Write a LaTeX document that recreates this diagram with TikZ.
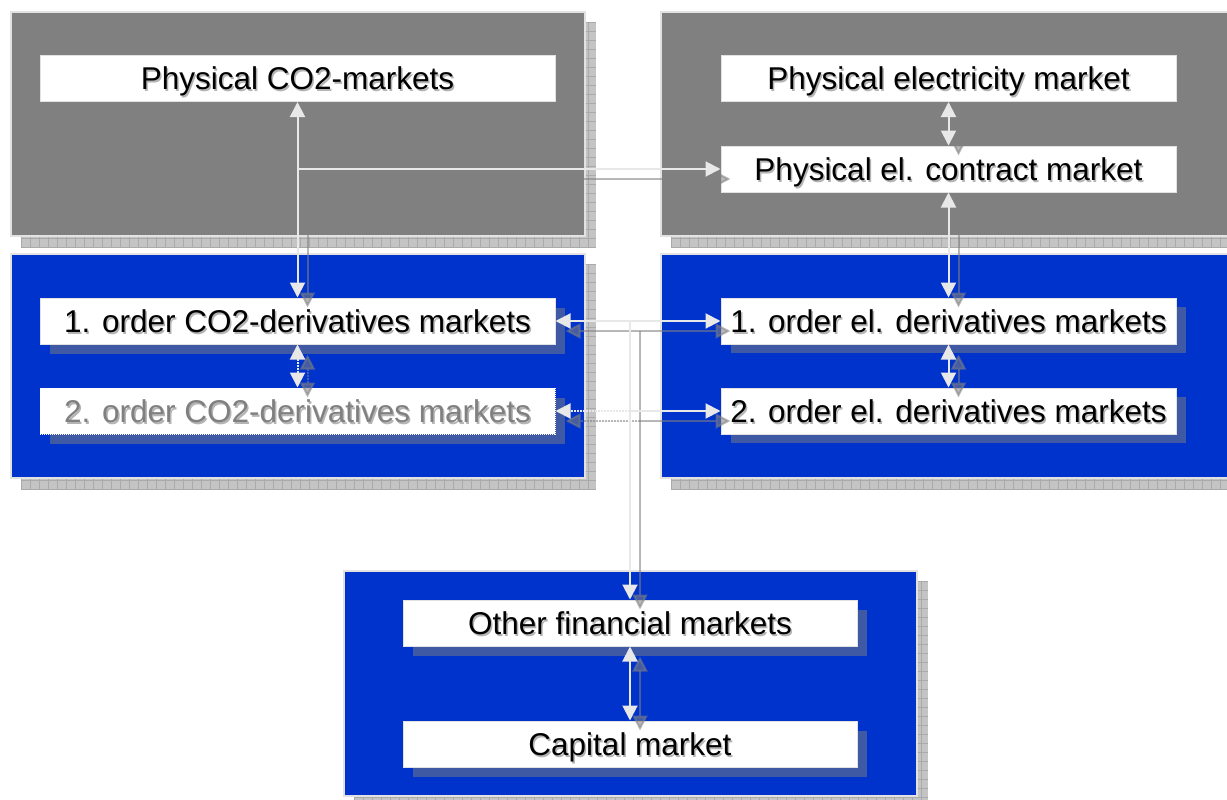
\documentclass[tikz,border=0pt]{standalone}
\usepackage{fontspec}
\setmainfont{Liberation Sans}
\usetikzlibrary{arrows.meta,calc}
\definecolor{pgray}{RGB}{128,128,128}
\definecolor{pblue}{RGB}{0,51,204}
\definecolor{pshadow}{RGB}{196,196,196}
\definecolor{pgrid}{RGB}{170,170,170}
\definecolor{pedge}{RGB}{226,226,226}
\definecolor{lnc}{RGB}{232,232,232}
\definecolor{txtsh}{RGB}{180,180,180}
\newcommand\shtxt[2][black]{\leavevmode\rlap{\hspace{1.5pt}\raisebox{-1.5pt}{\color{txtsh}#2}}{\color{#1}#2}}
\tikzset{
  panel/.style={draw=pedge, line width=1.5pt, minimum width=574pt, minimum height=224pt, inner sep=0pt},
  panelsh/.style={fill=pshadow, draw=none},
  mbox/.style={fill=white, draw=pedge, line width=1pt, inner sep=0pt, minimum height=46pt,
    text height=28pt, text depth=5pt, font=\fontsize{31.5}{36}\selectfont},
  boxsh/.style={fill=pgray, opacity=0.5, draw=none},
  conn/.style={draw=lnc, line width=2pt},
  tipd/.style={-{Triangle[length=15pt,width=15pt]}},
  tipb/.style={{Triangle[length=15pt,width=15pt]}-{Triangle[length=15pt,width=15pt]}},
  connsh/.style={draw=pgray, fill=pgray, line width=2pt, opacity=0.55},
}
\newcommand\shadowrect[4]{%
  \fill[panelsh] (#1,#2) rectangle (#3,#4);
  \begin{scope}
  \clip (#1,#2) rectangle (#3,#4);
  \pgfmathtruncatemacro\shxa{#1+9}%
  \pgfmathtruncatemacro\shya{#2+9}%
  \draw[pgrid, line width=0.5pt] \foreach \gx in {#1,\shxa,...,#3} {(\gx,#2) -- (\gx,#4)};
  \draw[pgrid, line width=0.5pt] \foreach \gy in {#2,\shya,...,#4} {(#1,\gy) -- (#3,\gy)};
  \end{scope}}
\begin{document}
\begin{tikzpicture}[x=1pt,y=-1pt]
\useasboundingbox (0,0) rectangle (1227,800);
\clip (0,0) rectangle (1227,800);
\fill[white] (0,0) rectangle (1227,800);
% panel shadows
\shadowrect{21}{22}{596}{247}
\shadowrect{671}{22}{1246}{247}
\shadowrect{21}{264}{596}{489}
\shadowrect{671}{264}{1246}{489}
\shadowrect{354}{581}{928}{806}
% panels
\node[panel, fill=pgray] (ptl) at (298,124) {};
\node[panel, fill=pgray] (ptr) at (948,124) {};
\node[panel, fill=pblue] (pml) at (298,366) {};
\node[panel, fill=pblue] (pmr) at (948,366) {};
\node[panel, fill=pblue, minimum width=573pt, minimum height=225pt] (pbot) at (630.5,683.5) {};
% box shadows (blue panels)
\fill[boxsh] (50,308) rectangle (565,354);
\fill[boxsh] (50,398) rectangle (565,444);
\fill[boxsh] (731,307) rectangle (1186,353);
\fill[boxsh] (731,397) rectangle (1186,443);
\fill[boxsh] (413,610) rectangle (867,656);
\fill[boxsh] (413,731) rectangle (867,777);
% boxes
\node[mbox, minimum width=515pt] (pco2) at (297.5,78.5) {\shtxt{Physical CO2-markets}};
\node[mbox, minimum width=515pt] (o1co2) at (297.5,321) {\shtxt{1. order CO2-derivatives markets}};
\node[mbox, minimum width=515pt, draw=white, densely dotted] (o2co2) at (297.5,411) {\shtxt[pgray]{2. order CO2-derivatives markets}};
\node[mbox, minimum width=455pt] (pel) at (948.5,78.5) {\shtxt{Physical electricity market}};
\node[mbox, minimum width=455pt] (pcon) at (948.5,169) {\shtxt{Physical el. contract market}};
\node[mbox, minimum width=455pt] (o1el) at (948.5,321) {\shtxt{1. order el. derivatives markets}};
\node[mbox, minimum width=455pt] (o2el) at (948.5,411) {\shtxt{2. order el. derivatives markets}};
\node[mbox, minimum width=454pt] (ofin) at (630,623) {\shtxt{Other financial markets}};
\node[mbox, minimum width=454pt] (cap) at (630,744) {\shtxt{Capital market}};
% junctions
\coordinate (j1) at (pco2.south |- pcon.west);
\coordinate (j2) at (ofin.north |- o1co2.east);
\coordinate (j3) at (ofin.north |- o2co2.east);
% connector shadows
\begin{scope}[transform canvas={shift={(10,10)}}]
\draw[connsh, tipb] (pco2.south) -- (o1co2.north);
\draw[connsh, tipd] (j1) -- (pcon.west);
\draw[connsh, tipb] (pel.south) -- (pcon.north);
\draw[connsh, tipb] (pcon.south) -- (o1el.north);
\draw[connsh, tipb] (o1el.south) -- (o2el.north);
\draw[connsh, tipb, densely dotted] (o1co2.south) -- (o2co2.north);
\draw[connsh, tipd] (j2) -- (o1co2.east);
\draw[connsh, tipd] (j2) -- (o1el.west);
\draw[connsh, tipd, densely dotted] (j3) -- (o2co2.east);
\draw[connsh, tipd] (j3) -- (o2el.west);
\draw[connsh, tipd] (j2) -- (ofin.north);
\draw[connsh, tipb] (ofin.south) -- (cap.north);
\end{scope}
% connectors
\draw[conn, tipb] (pco2.south) -- (o1co2.north);
\draw[conn, tipd] (j1) -- (pcon.west);
\draw[conn, tipb] (pel.south) -- (pcon.north);
\draw[conn, tipb] (pcon.south) -- (o1el.north);
\draw[conn, tipb] (o1el.south) -- (o2el.north);
\draw[conn, tipb, densely dotted] (o1co2.south) -- (o2co2.north);
\draw[conn, tipd] (j2) -- (o1co2.east);
\draw[conn, tipd] (j2) -- (o1el.west);
\draw[conn, tipd, densely dotted] (j3) -- (o2co2.east);
\draw[conn, tipd] (j3) -- (o2el.west);
\draw[conn, tipd] (j2) -- (ofin.north);
\draw[conn, tipb] (ofin.south) -- (cap.north);
\end{tikzpicture}
\end{document}
